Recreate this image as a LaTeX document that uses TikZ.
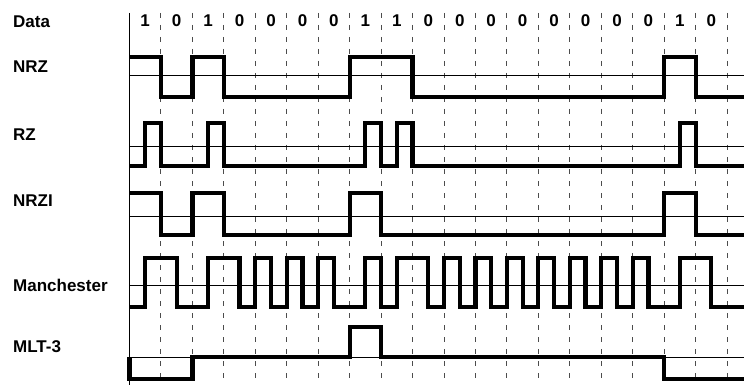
\documentclass[tikz,border=0pt]{standalone}
\usepackage{fontspec}
\setmainfont{Liberation Sans}
\tikzset{
  codeLabel/.style={anchor=base west, inner sep=0pt, font=\fontsize{17}{19}\selectfont\bfseries},
  codeBit/.style={anchor=base, inner sep=0pt, font=\fontsize{17}{19}\selectfont\bfseries},
  codeWave/.style={line width=4.2pt, line join=miter},
  codeLevel/.style={line width=0.8pt},
  codeGrid/.style={black!70, line width=1pt, dash pattern=on 5pt off 7pt},
  codeAxis/.style={line width=1pt}
}
\begin{document}
\begin{tikzpicture}[x=1pt, y=-1pt]
  \useasboundingbox (0,0) rectangle (744,385);
  \node[codeLabel] (data) at (13,28) {Data};
  \node[codeLabel] (nrz) at (13,73) {NRZ};
  \node[codeLabel] (rz) at (13,140) {RZ};
  \node[codeLabel] (nrzi) at (13,206) {NRZI};
  \node[codeLabel] (manchester) at (13,291) {Manchester};
  \node[codeLabel] (mlt) at (13,352) {MLT-3};

  \begin{scope}[xshift=129.5pt, x=31.45pt]
    % time axis and bit boundaries
    \draw[codeAxis] (0,13) -- (0,385);
    \foreach \k in {1,...,19}
      \draw[codeGrid] (\k,13) -- (\k,385);
    \foreach \b [count=\k from 0] in {1,0,1,0,0,0,0,1,1,0,0,0,0,0,0,0,0,1,0}
      \node[codeBit] (bit\k) at (\k+0.5,27) {\b};
    % zero levels
    \foreach \m in {75,146,216,285,357}
      \draw[codeLevel] (0,\m) -- (19.6,\m);

    % NRZ
    \draw[codeWave] (0,57) -| (1,97) -| (2,57) -| (3,97) -| (7,57) -| (9,97)
      -| (17,57) -| (18,97) -- (19.6,97);
    % RZ
    \draw[codeWave] (0,166) -| (0.5,123) -| (1,166) -| (2.5,123) -| (3,166)
      -| (7.5,123) -| (8,166) -| (8.5,123) -| (9,166) -| (17.5,123) -| (18,166)
      -- (19.6,166);
    % NRZI
    \draw[codeWave] (0,193) -| (1,235) -| (2,193) -| (3,235) -| (7,193) -| (8,235)
      -| (17,193) -| (18,235) -- (19.6,235);
    % Manchester
    \draw[codeWave] (0,307) -| (0.5,258) -| (1.5,307) -| (2.5,258) -| (3.5,307)
      -| (4,258) -| (4.5,307) -| (5,258) -| (5.5,307) -| (6,258) -| (6.5,307)
      -| (7.5,258) -| (8,307) -| (8.5,258) -| (9.5,307) -| (10,258) -| (10.5,307)
      -| (11,258) -| (11.5,307) -| (12,258) -| (12.5,307) -| (13,258) -| (13.5,307)
      -| (14,258) -| (14.5,307) -| (15,258) -| (15.5,307) -| (16,258) -| (16.5,307)
      -| (17.5,258) -| (18.5,307) -- (19.6,307);
    % MLT-3
    \draw[codeWave] (0,357) -- (0,379) -| (2,357) -| (7,327) -| (8,357) -| (17,379)
      -- (19.6,379);
  \end{scope}
\end{tikzpicture}
\end{document}
